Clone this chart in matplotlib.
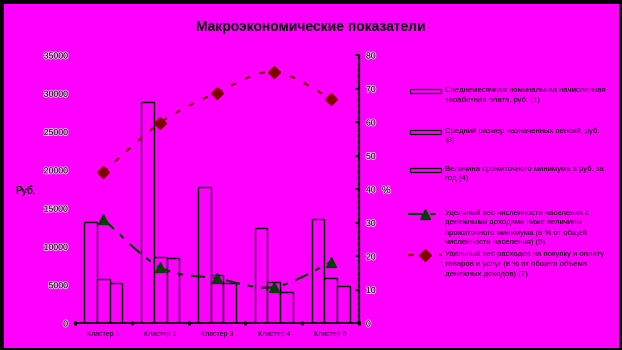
import numpy as np
import matplotlib.pyplot as plt
from matplotlib.path import Path
from matplotlib.patches import PathPatch, Rectangle
from matplotlib.lines import Line2D
import matplotlib.patheffects as pe

plt.rcParams['font.family'] = ['Liberation Sans', 'DejaVu Sans']

# --- Данные ---
clusters = ['Кластер 1', 'Кластер 2', 'Кластер 3', 'Кластер 4', 'Кластер 5']
wage = [13230, 28820, 17720, 12370, 13540]        # (1)
pension = [5710, 8660, 6230, 5310, 5840]          # (3)
subsistence = [5190, 8450, 5190, 4010, 4790]      # (4)
poor_share = [31.0, 16.6, 13.3, 10.7, 18.1]       # (5), %
spend_share = [45.0, 59.8, 68.8, 75.0, 67.0]      # (7), %

labels = [
    'Среднемесячная номинальная начисленная\nзаработная плата, руб. (1)',
    'Средний размер назначенных пенсий, руб.\n(3)',
    'Величина прожиточного минимума в руб. за\nгод (4)',
    'Удельный вес численности населения с\nденежными доходами ниже величины\n'
    'прожиточного минимума (в % от общей\nчисленности населения) (5)',
    'Удельный вес расходов на покупку и оплату\nтоваров и услуг (в % от общего объема\n'
    'денежных доходов) (7)',
]

BG = '#ff00ff'
GREEN = '#004000'
RED = '#800000'
W, H = 622, 350


def fx(x):
    return x / W


def fy(y):
    return 1 - y / H


def smooth_path(xs, ys):
    # сглаженная линия (Catmull-Rom -> кубические кривые Безье)
    pts = np.column_stack([xs, ys]).astype(float)
    n = len(pts)
    verts = [pts[0]]
    codes = [Path.MOVETO]
    for i in range(n - 1):
        p0 = pts[max(i - 1, 0)]
        p1 = pts[i]
        p2 = pts[i + 1]
        p3 = pts[min(i + 2, n - 1)]
        c1 = p1 + (p2 - p0) / 6.0
        c2 = p2 - (p3 - p1) / 6.0
        verts += [c1, c2, p2]
        codes += [Path.CURVE4] * 3
    return Path(verts, codes)


fig = plt.figure(figsize=(W / 100, H / 100), dpi=100, facecolor='black')
fig.patches.append(Rectangle((fx(4), fy(348)), fx(615), 344 / H,
                             transform=fig.transFigure, facecolor=BG,
                             edgecolor='none', zorder=-10))

ax = fig.add_axes([fx(75), fy(323), fx(284), 268 / H])
ax.set_facecolor('none')
ax2 = ax.twinx()

x = np.arange(len(clusters))
bw = 0.222
for k, vals in enumerate([wage, pension, subsistence]):
    ax.bar(x + (k - 1) * bw, vals, bw, facecolor=BG, edgecolor='black',
           linewidth=1.0, zorder=2)

ax.set_xlim(-0.5, len(clusters) - 0.5)
ax.set_ylim(0, 35000)
ax.set_yticks(np.arange(0, 35001, 5000))
ax.set_yticklabels([str(v) for v in range(0, 35001, 5000)])
ax2.set_ylim(0, 80)
ax2.set_yticks(np.arange(0, 81, 10))

halo = [pe.withStroke(linewidth=1.3, foreground='white', alpha=0.7)]
ax.tick_params(axis='y', length=0, pad=5, labelsize=6.3)
for t in ax.get_yticklabels():
    t.set_path_effects(halo)
ax2.tick_params(axis='y', direction='in', length=3, width=1.5, pad=5,
                labelsize=6.3)
for t in ax2.get_yticklabels():
    t.set_path_effects(halo)

ax.set_xticks(x)
ax.set_xticklabels(clusters, fontsize=5.0)
ax.set_xticks(np.arange(-0.5, len(clusters)), minor=True)
ax.tick_params(axis='x', which='major', length=0, pad=6)
ax.tick_params(axis='x', which='minor', direction='inout', length=3, width=2)

for a in (ax, ax2):
    a.spines['top'].set_visible(False)
    a.spines['left'].set_visible(False)
ax.spines['right'].set_visible(False)
ax.spines['bottom'].set_linewidth(1.3)
ax2.spines['bottom'].set_visible(False)
ax2.spines['right'].set_linewidth(1.6)
ax2.spines['right'].set_linestyle((0, (1.5, 1.2)))

# линии на правой оси
green_ls = (0, (6.5, 3.5, 2.5, 3.5))
red_ls = (0, (2.5, 4.5))
ax2.add_patch(PathPatch(smooth_path(x, poor_share), fill=False,
                        edgecolor=GREEN, linewidth=1.6, linestyle=green_ls,
                        zorder=3))
ax2.plot(x, poor_share, linestyle='none', marker='^', markersize=7,
         color=GREEN, zorder=4)
ax2.add_patch(PathPatch(smooth_path(x, spend_share), fill=False,
                        edgecolor=RED, linewidth=1.6, linestyle=red_ls,
                        zorder=3))
ax2.plot(x, spend_share, linestyle='none', marker='D', markersize=6,
         color=RED, zorder=4)

fig.text(fx(311), fy(27), 'Макроэкономические показатели', ha='center',
         va='center', fontsize=10, fontweight='bold')
fig.text(fx(15), fy(191), 'Руб.', ha='left', va='center', fontsize=7,
         fontweight='bold')
fig.text(fx(382), fy(190), '%', ha='left', va='center', fontsize=7,
         path_effects=halo)

# легенда
rows = [91, 132, 170, 214, 255]
for i, (lab, yy) in enumerate(zip(labels, rows)):
    if i < 3:
        fig.patches.append(Rectangle((fx(410), fy(yy + 2)), fx(31), 4 / H,
                                     transform=fig.transFigure, facecolor=BG,
                                     edgecolor='black', linewidth=0.9))
    else:
        col, ls, mk, ms = ((GREEN, green_ls, '^', 7) if i == 3
                           else (RED, red_ls, 'D', 6))
        fig.lines.append(Line2D([fx(408), fx(442)], [fy(yy), fy(yy)],
                                transform=fig.transFigure, color=col,
                                linewidth=1.6, linestyle=ls))
        fig.lines.append(Line2D([fx(425)], [fy(yy)], transform=fig.transFigure,
                                color=col, marker=mk, markersize=ms,
                                linestyle='none'))
    fig.text(fx(445), fy(yy - 4.5), lab, ha='left', va='top', fontsize=5.6,
             linespacing=1.5)

fig.savefig('out.png', dpi=100, facecolor=fig.get_facecolor())
